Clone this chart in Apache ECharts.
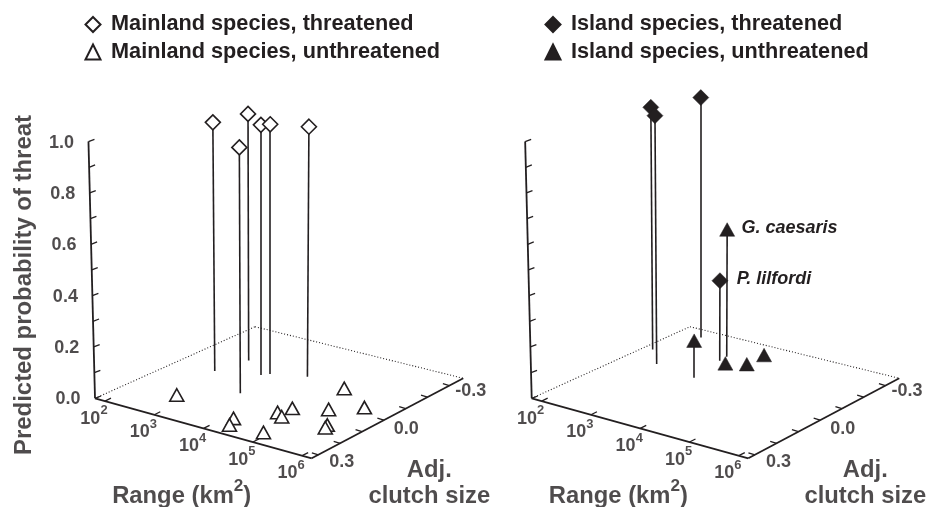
<!DOCTYPE html>
<html><head><meta charset="utf-8">
<style>html,body{margin:0;padding:0;background:#fff}#c{width:927px;height:507px}</style>
<script src="https://cdn.jsdelivr.net/npm/echarts@6/dist/echarts.min.js"></script>
</head><body><div id="c"></div>
<script>
// Each point: [log10 range (km2), adjusted clutch size, predicted probability of threat]
const mainlandThreatened = [[2.567,-0.028,0.969],[3.530,0.065,0.958],[2.717,-0.145,0.961],[3.292,-0.078,0.974],[3.389,-0.097,0.973],[3.969,-0.139,0.974]];
const mainlandUnthreatened = [[2.747,0.177,0],[4.123,0.224,0],[4.246,0.269,0],[4.888,0.258,0],[4.545,0.119,0],[4.717,0.138,0],[4.633,0.072,0],[5.152,0.022,0],[5.548,0.115,0],[5.592,0.134,0],[4.796,-0.126,0],[5.592,-0.044,0]];
const islandThreatened = [[1.969,-0.164,0.943],[2.448,-0.080,0.968],[2.264,-0.314,0.934],[3.200,-0.199,0.312]];
const islandUnthreatened = [[3.182,-0.234,0.496],[3.332,-0.057,0.144],[3.350,-0.192,0],[3.666,-0.220,0],[3.644,-0.302,0]];
const islandThreatenedNames = ['','','','P. lilfordi'];
const islandUnthreatenedNames = ['G. caesaris','','','',''];
const rangeTicks = [2,3,4,5,6];
const clutchTicks = [0.3,0.2,0.1,0,-0.1,-0.2,-0.3];
const clutchLabelled = [0.3,0,-0.3];
const probTicks = [0,0.1,0.2,0.3,0.4,0.5,0.6,0.7,0.8,0.9,1];
const probLabelled = [0,0.2,0.4,0.6,0.8,1];

const INK = '#231f20';
const FONT = '"Liberation Sans", Arial, sans-serif';
const panels = [
  {A:[95,398.3],B:[311.7,458.3],D:[255,326.7],C:[463.3,378.3],xv:267},
  {A:[531.7,398.3],B:[748.3,458.3],D:[690,326.7],C:[899.3,378.3],xv:703.7}
];
function floorST(P,s,t){
  const f=i=>P.A[i]*(1-s)*(1-t)+P.B[i]*s*(1-t)+P.D[i]*(1-s)*t+P.C[i]*s*t;
  return [f(0),f(1)];
}
function liftST(P,s,t,p){
  const q=floorST(P,s,t);
  return [q[0]+(q[0]-P.xv)*0.038*p,q[1]-256.7*p];
}
const sOf=r=>0.046+(r-2)*0.2275;
const tOf=c=>0.044+(0.3-c)*1.44;
const proj=(P,d)=>liftST(P,sOf(d[0]),tOf(d[1]),d[2]);
const ground=(P,d)=>liftST(P,sOf(d[0]),tOf(d[1]),0);
const stems=(P,arr)=>arr.filter(d=>d[2]>0).map(d=>({coords:[ground(P,d),proj(P,d)]}));

function linesSeries(data,lw,type){
  return {type:'lines',coordinateSystem:'cartesian2d',polyline:false,silent:true,z:2,
    data,lineStyle:{color:INK,width:lw,type:type||'solid',opacity:1,cap:'butt'},effect:{show:false}};
}
function textSeries(items){
  return {type:'scatter',symbolSize:0,silent:true,z:5,
    data:items.map(o=>{const sz=o.size||18;return {value:[o.x,o.y],label:{show:true,position:'inside',formatter:o.text,
      fontFamily:FONT,fontWeight:'bold',color:INK,fontSize:sz,rotate:o.rotate||0,align:'center',verticalAlign:'middle',
      rich:{b:{fontFamily:FONT,fontWeight:'bold',color:INK,fontSize:sz,lineHeight:sz*1.3,verticalAlign:'bottom'},
            u:{fontFamily:FONT,fontWeight:'bold',color:INK,fontSize:sz*0.72,lineHeight:sz*1.3,verticalAlign:'top'}}}};})};
}

const series=[];
const txt=[];
panels.forEach((P,idx)=>{
  const dotted=[{coords:[floorST(P,0,0),floorST(P,0,1)]},{coords:[floorST(P,0,1),floorST(P,1,1)]}];
  series.push(linesSeries(dotted,1.1,[1,2]));
  const axes=[{coords:[liftST(P,0,0,0),liftST(P,0,0,1)]},{coords:[floorST(P,0,0),floorST(P,1,0)]},{coords:[floorST(P,1,0),floorST(P,1,1)]}];
  const ticks=[];
  probTicks.forEach(v=>{const a=liftST(P,0,0,v);ticks.push({coords:[a,[a[0]+6,a[1]-2.3]]});});
  rangeTicks.forEach(v=>{const a=floorST(P,sOf(v),0);ticks.push({coords:[a,[a[0]+6,a[1]-3]]});});
  clutchTicks.forEach(v=>{const a=floorST(P,1,tOf(v));ticks.push({coords:[a,[a[0]-6.5,a[1]-2]]});});
  series.push(linesSeries(axes,1.8));
  series.push(linesSeries(ticks,1.3));
  rangeTicks.forEach(v=>{const a=floorST(P,sOf(v),0);
    txt.push({x:a[0]-11,y:a[1]+15,text:'{b|10}{u|'+v+'}'});});
  clutchLabelled.forEach(v=>{const a=floorST(P,1,tOf(v));
    const off=v>0?[23.5,7]:(v===0?[22.5,8.7]:[21.5,5.7]);
    txt.push({x:a[0]+off[0],y:a[1]+off[1],text:v.toFixed(1)});});
  txt.push({x:P.A[0]+86.7,y:493,text:'{b|Range (km}{u|2}{b|)}',size:23.8});
  txt.push({x:P.C[0]-34,y:470,text:'Adj.',size:23.8});
  txt.push({x:P.C[0]-34,y:496,text:'clutch size',size:23.8});
});
probLabelled.forEach(v=>{const a=liftST(panels[0],0,0,v);
  txt.push({x:a[0]-27,y:a[1]+1,text:v.toFixed(1)});});
txt.push({x:24.5,y:285,text:'Predicted probability of threat',size:23.9,rotate:90});

series.push(linesSeries(stems(panels[0],mainlandThreatened),1.6));
series.push(linesSeries(stems(panels[1],islandThreatened).concat(stems(panels[1],islandUnthreatened)),1.6));

function markers(name,symbol,size,fill,P,arr,names){
  return {type:'scatter',name,symbol,symbolSize:size,z:3,silent:true,
    itemStyle:{color:fill,borderColor:INK,borderWidth:fill==='#fff'?1.6:0.5,opacity:1},
    data:arr.map((d,i)=>{
      const item={value:proj(P,d)};
      if(names&&names[i]) item.label={show:true,position:'right',distance:symbol==='diamond'?8.5:6.5,offset:[0,-1.5],formatter:names[i],
        fontFamily:FONT,fontWeight:'bold',fontStyle:'italic',fontSize:18,color:INK};
      return item;
    })};
}
series.push(markers('Mainland species, threatened','diamond',[15,15],'#fff',panels[0],mainlandThreatened));
series.push(markers('Mainland species, unthreatened','triangle',[14,12.5],'#fff',panels[0],mainlandUnthreatened));
series.push(markers('Island species, threatened','diamond',[16,16],INK,panels[1],islandThreatened,islandThreatenedNames));
series.push(markers('Island species, unthreatened','triangle',[15,13.5],INK,panels[1],islandUnthreatened,islandUnthreatenedNames));
series.push(textSeries(txt));

const legendBase={orient:'vertical',padding:0,itemWidth:15,itemHeight:15,itemGap:5.5,selectedMode:false,
  textStyle:{fontFamily:FONT,fontWeight:'bold',fontSize:21.7,color:INK,padding:[0,0,0,5.5]}};
const chart=echarts.init(document.getElementById('c'),null,{renderer:'canvas'});
chart.setOption({
  animation:false,backgroundColor:'#fff',
  grid:{left:0,top:0,right:0,bottom:0,containLabel:false},
  xAxis:{type:'value',min:0,max:927,show:false},
  yAxis:{type:'value',min:0,max:507,inverse:true,show:false},
  tooltip:{show:false},
  legend:[
    Object.assign({},legendBase,{left:84.5,top:13.5,data:['Mainland species, threatened','Mainland species, unthreatened']}),
    Object.assign({},legendBase,{left:544.5,top:13.5,data:['Island species, threatened','Island species, unthreatened']})
  ],
  series
});
</script></body></html>
